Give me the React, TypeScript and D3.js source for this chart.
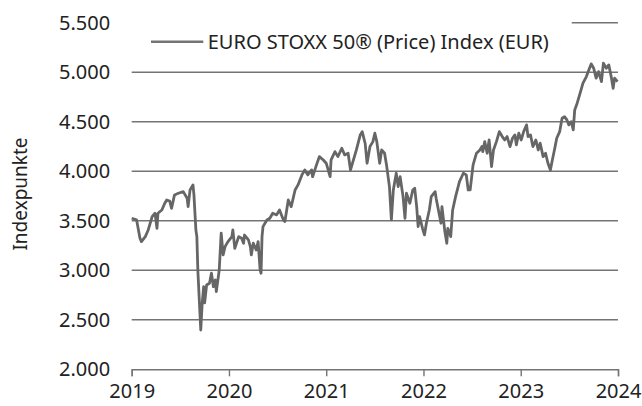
import React, { useRef, useEffect } from "react";
import * as d3 from "d3";

// decimal year
const years = [
  2019.0, 2019.05, 2019.085, 2019.1, 2019.14, 2019.17, 2019.21, 2019.24, 2019.26, 2019.27,
  2019.31, 2019.34, 2019.36, 2019.39, 2019.41, 2019.44, 2019.48, 2019.53, 2019.57, 2019.58,
  2019.6, 2019.63, 2019.64, 2019.66, 2019.67, 2019.68, 2019.7, 2019.71, 2019.725, 2019.74,
  2019.75, 2019.77, 2019.8, 2019.82, 2019.84, 2019.86, 2019.87, 2019.9, 2019.92, 2019.94,
  2019.96, 2019.99, 2020.03, 2020.04, 2020.06, 2020.1, 2020.13, 2020.15, 2020.16, 2020.2,
  2020.22, 2020.23, 2020.25, 2020.28, 2020.3, 2020.32, 2020.33, 2020.34, 2020.35, 2020.39,
  2020.42, 2020.45, 2020.49, 2020.52, 2020.56, 2020.575, 2020.61, 2020.64, 2020.68, 2020.71,
  2020.75, 2020.78, 2020.81, 2020.85, 2020.86, 2020.9, 2020.93, 2020.97, 2021.0, 2021.04,
  2021.05, 2021.09, 2021.12, 2021.16, 2021.19, 2021.225, 2021.25, 2021.28, 2021.31, 2021.35,
  2021.37, 2021.4, 2021.42, 2021.45, 2021.48, 2021.5, 2021.52, 2021.55, 2021.57, 2021.6,
  2021.62, 2021.65, 2021.67, 2021.69, 2021.72, 2021.74, 2021.76, 2021.79, 2021.81, 2021.825,
  2021.86, 2021.89, 2021.91, 2021.93, 2021.945, 2021.96, 2021.99, 2022.01, 2022.03, 2022.06,
  2022.08, 2022.12, 2022.13, 2022.16, 2022.18, 2022.19, 2022.22, 2022.24, 2022.25, 2022.28,
  2022.3, 2022.33, 2022.37, 2022.41, 2022.44, 2022.46, 2022.48, 2022.51, 2022.545, 2022.58,
  2022.6, 2022.61, 2022.63, 2022.655, 2022.675, 2022.7, 2022.72, 2022.75, 2022.78, 2022.81,
  2022.835, 2022.86, 2022.89, 2022.915, 2022.94, 2022.955, 2022.98, 2023.005, 2023.03, 2023.06,
  2023.075, 2023.1, 2023.125, 2023.155, 2023.18, 2023.2, 2023.23, 2023.255, 2023.28, 2023.305,
  2023.325, 2023.35, 2023.37, 2023.4, 2023.425, 2023.45, 2023.475, 2023.495, 2023.52, 2023.54,
  2023.555, 2023.58, 2023.6, 2023.62, 2023.64, 2023.675, 2023.7, 2023.725, 2023.75, 2023.775,
  2023.8, 2023.83, 2023.85, 2023.88, 2023.905, 2023.93, 2023.95, 2023.965, 2023.995,
];

const index = [
  3525, 3510, 3323, 3289, 3340, 3407, 3541, 3576, 3424, 3576,
  3609, 3677, 3710, 3700, 3626, 3761, 3778, 3794, 3727, 3643,
  3811, 3862, 3761, 3407, 3340, 3003, 2599, 2397, 2667, 2834,
  2670, 2851, 2869, 2970, 2834, 2902, 2784, 3003, 3374, 3155,
  3239, 3289, 3340, 3407, 3222, 3340, 3323, 3273, 3356, 3306,
  3239, 3155, 3273, 3205, 3289, 3003, 2970, 3340, 3441, 3508,
  3525, 3576, 3559, 3609, 3508, 3492, 3710, 3643, 3811, 3862,
  3963, 4013, 3963, 4013, 3945, 4064, 4148, 4114, 4081, 3945,
  4114, 4198, 4148, 4232, 4165, 4182, 4013, 4114, 4215, 4367,
  4400, 4283, 4081, 4249, 4299, 4384, 4299, 4081, 4215, 4182,
  4064, 3845, 3508, 3811, 3980, 3845, 3945, 3744, 3525, 3778,
  3677, 3811, 3828, 3643, 3441, 3541, 3424, 3357, 3475, 3609,
  3744, 3794, 3727, 3576, 3475, 3643, 3391, 3273, 3424, 3340,
  3609, 3744, 3895, 3980, 3963, 3811, 3811, 4064, 4182, 4215,
  4249, 4198, 4299, 4182, 4316, 4047, 4215, 4299, 4400, 4350,
  4316, 4350, 4249, 4333, 4367, 4266, 4384, 4316, 4400, 4468,
  4350, 4367, 4249, 4316, 4215, 4283, 4148, 4182, 4081, 4013,
  4114, 4232, 4333, 4400, 4535, 4551, 4518, 4468, 4501, 4417,
  4619, 4687, 4754, 4821, 4889, 4956, 5023, 5084, 5040, 4940,
  5006, 4905, 5091, 5040, 5074, 4956, 4838, 4940, 4905,
];

const yTicks = [2000, 2500, 3000, 3500, 4000, 4500, 5000, 5500];
const xTicks = [2019, 2020, 2021, 2022, 2023, 2024];
const seriesName = "EURO STOXX 50® (Price) Index (EUR)";
const yTitle = "Indexpunkte";

function App() {
  const svgRef = useRef(null);

  useEffect(() => {
    const width = 642;
    const height = 406;
    const margin = { top: 22.7, right: 24, bottom: 36.7, left: 131.7 };
    const innerWidth = width - margin.left - margin.right;
    const innerHeight = height - margin.top - margin.bottom;
    const font = "'Noto Sans', sans-serif";
    const grey = "#747474";

    const svg = d3.select(svgRef.current);
    svg.selectAll("*").remove();
    svg.attr("width", width).attr("height", height);

    const x = d3.scaleLinear().domain([2019, 2024]).range([0, innerWidth]);
    const y = d3.scaleLinear().domain([2000, 5500]).range([innerHeight, 0]);

    const g = svg
      .append("g")
      .attr("transform", `translate(${margin.left},${margin.top})`);

    // gridlines
    g.selectAll("line.grid")
      .data(yTicks.slice(1))
      .enter()
      .append("line")
      .attr("class", "grid")
      .attr("x1", 0)
      .attr("x2", innerWidth)
      .attr("y1", (d) => y(d))
      .attr("y2", (d) => y(d))
      .attr("stroke", grey)
      .attr("stroke-width", 1.4);

    // x axis
    const xAxis = d3
      .axisBottom(x)
      .tickValues(xTicks)
      .tickSize(7)
      .tickFormat(d3.format("d"));
    const xg = g
      .append("g")
      .attr("transform", `translate(0,${innerHeight})`)
      .call(xAxis);
    xg.select(".domain").attr("stroke", grey).attr("stroke-width", 1.4);
    xg.selectAll(".tick line").attr("stroke", grey).attr("stroke-width", 1.4);
    xg.selectAll(".tick text")
      .attr("y", 28.5)
      .attr("dy", 0)
      .attr("fill", "#222")
      .style("font-family", font)
      .style("font-size", "20px");

    // y labels
    const fmt = (v) => d3.format(",")(v).replace(",", ".");
    g.selectAll("text.ylab")
      .data(yTicks)
      .enter()
      .append("text")
      .attr("class", "ylab")
      .attr("x", -21.5)
      .attr("y", (d) => y(d))
      .attr("dy", "0.35em")
      .attr("text-anchor", "end")
      .attr("fill", "#222")
      .style("font-family", font)
      .style("font-size", "20px")
      .text(fmt);

    // legend box covering part of the top gridline
    g.append("rect")
      .attr("x", -2)
      .attr("y", -8)
      .attr("width", 442)
      .attr("height", 40)
      .attr("fill", "#fff");
    g.append("line")
      .attr("x1", 19.3)
      .attr("x2", 71.6)
      .attr("y1", 19)
      .attr("y2", 19)
      .attr("stroke", grey)
      .attr("stroke-width", 2.6);
    g.append("text")
      .attr("x", 76)
      .attr("y", 19)
      .attr("dy", "0.35em")
      .attr("fill", "#222")
      .style("font-family", font)
      .style("font-size", "20px")
      .text(seriesName);

    // series
    const points = years.map((t, i) => ({ t, v: index[i] }));
    const line = d3
      .line()
      .x((d) => x(d.t))
      .y((d) => y(d.v));
    g.append("path")
      .datum(points)
      .attr("d", line)
      .attr("fill", "none")
      .attr("stroke", "#666666")
      .attr("stroke-width", 2.8)
      .attr("stroke-linejoin", "round");

    // y title
    svg
      .append("text")
      .attr("transform", `translate(20,${margin.top + innerHeight / 2 - 2}) rotate(-90)`)
      .attr("text-anchor", "middle")
      .attr("dy", "0.35em")
      .attr("fill", "#222")
      .style("font-family", font)
      .style("font-size", "19px")
      .text(yTitle);
  }, []);

  return (
    <svg
      ref={svgRef}
      style={{ position: "absolute", left: 0, top: 0, display: "block" }}
    ></svg>
  );
}

export default App;
